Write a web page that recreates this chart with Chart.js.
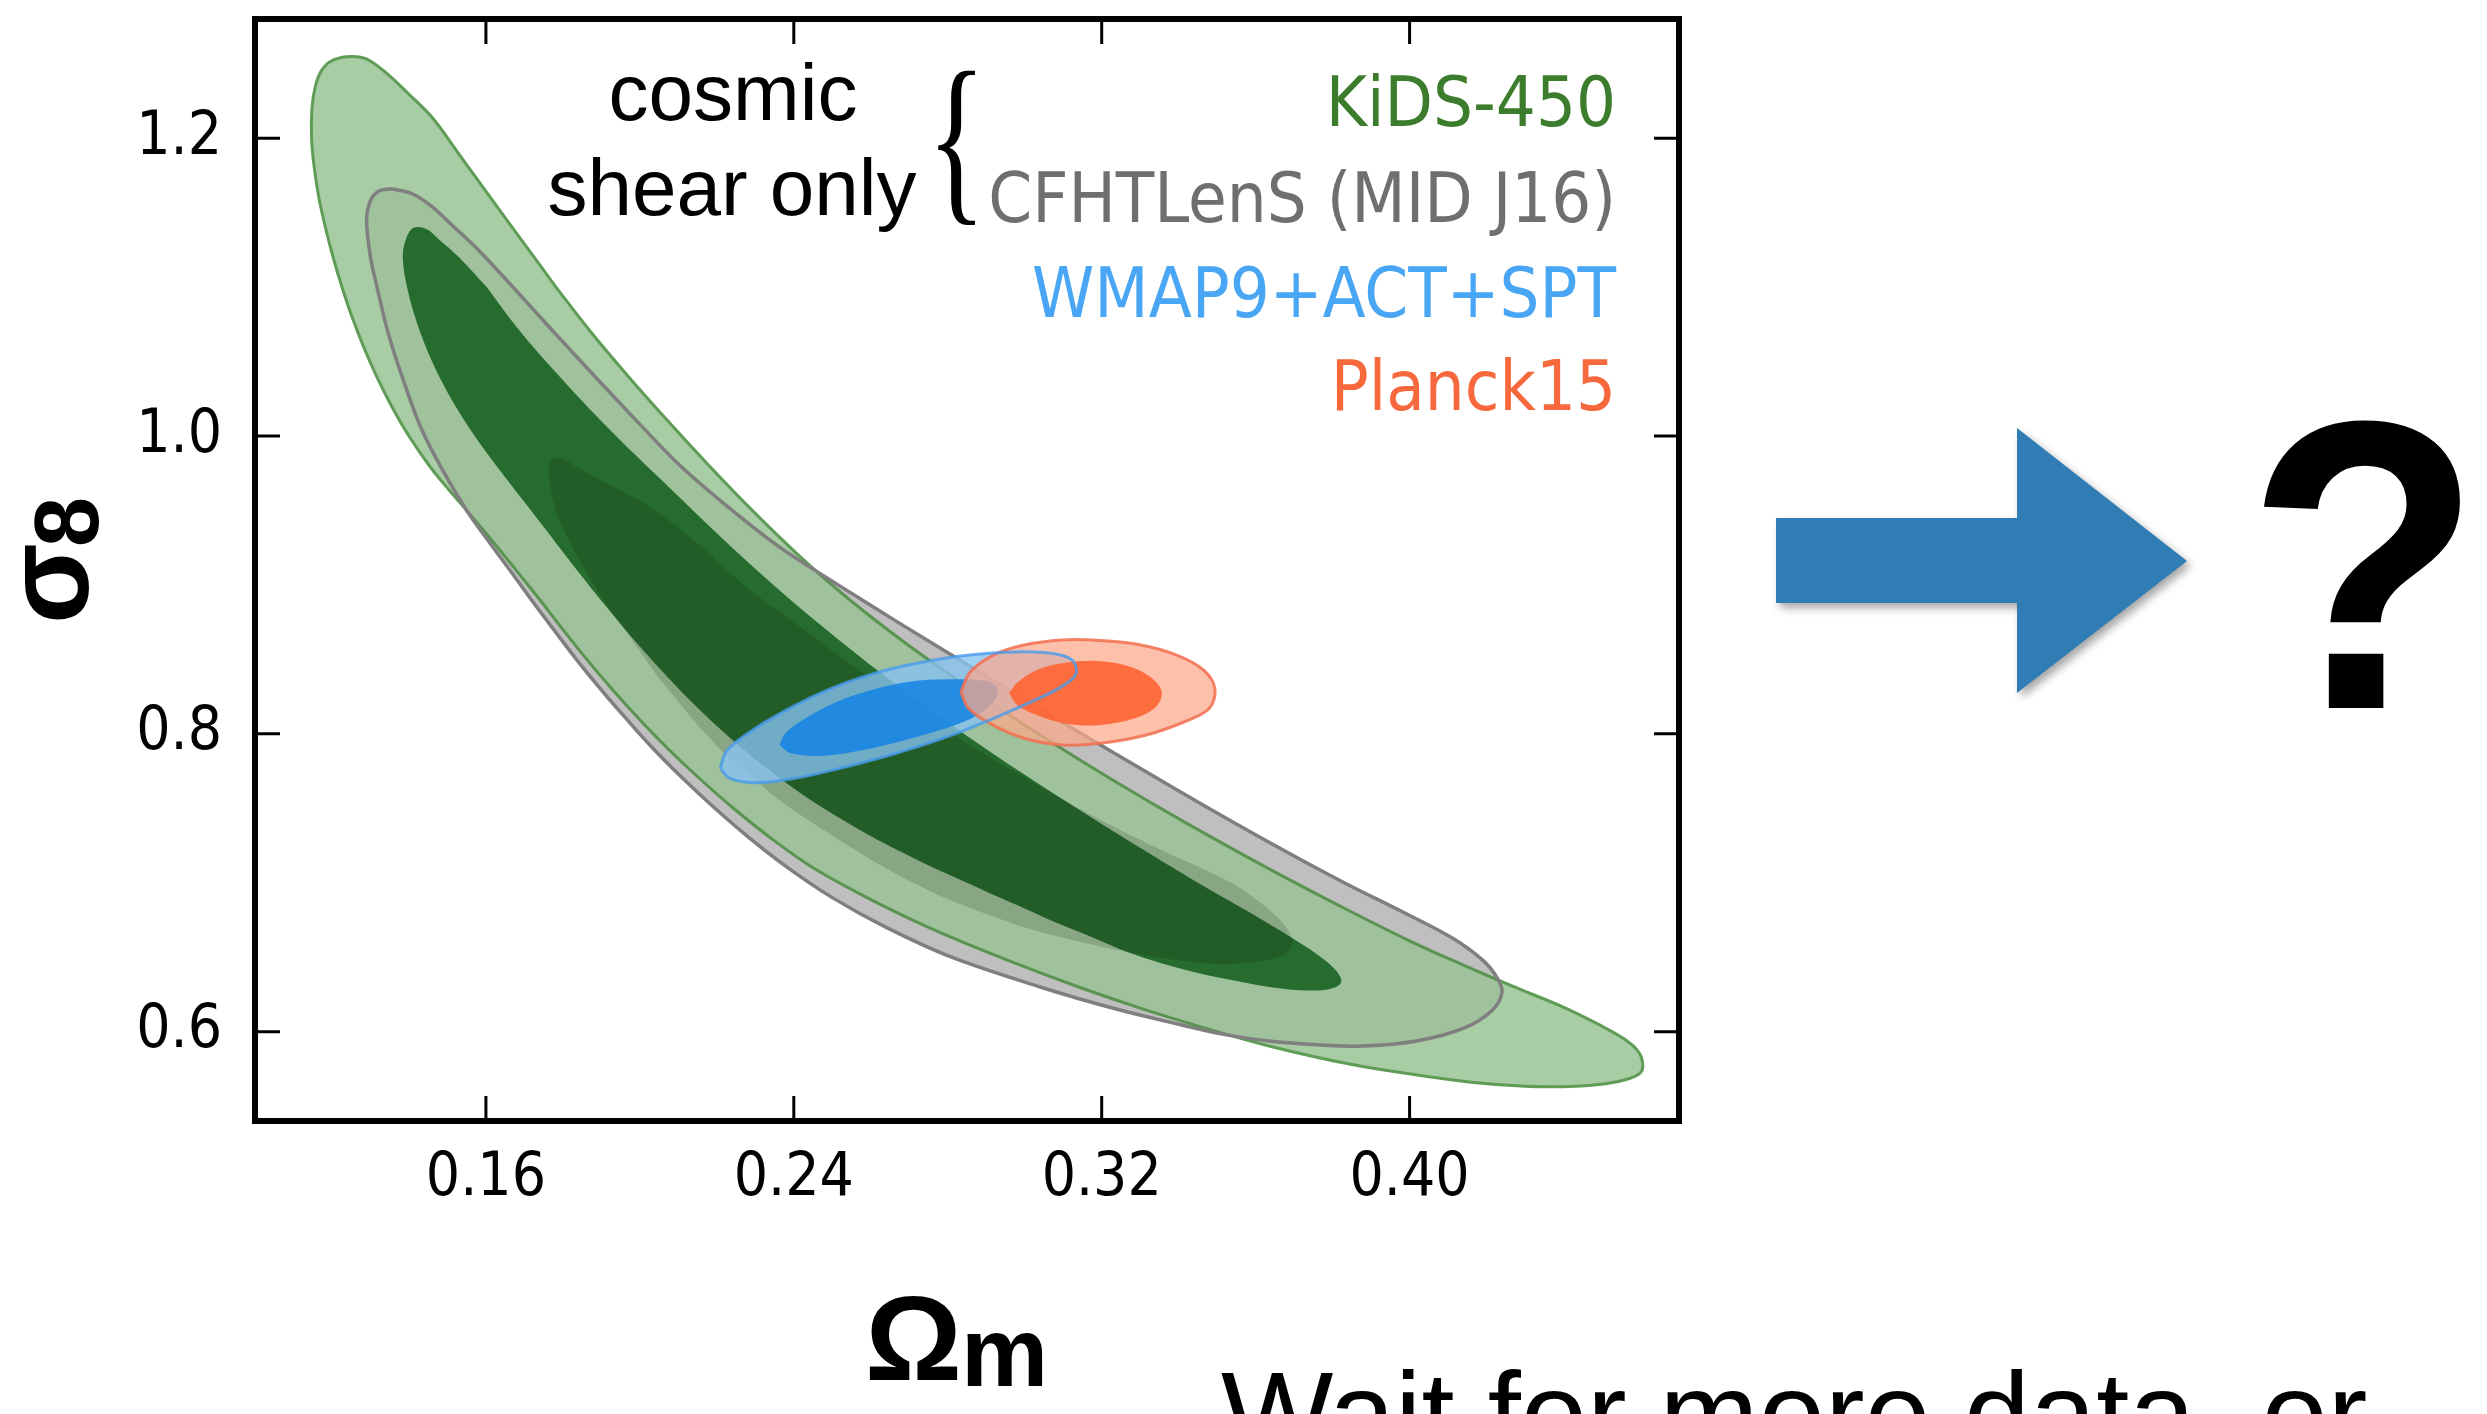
<!DOCTYPE html>
<html>
<head>
<meta charset="UTF-8">
<title>KiDS-450 sigma8 vs Omega_m</title>
<script src="https://cdn.jsdelivr.net/npm/chart.js@4.4.0/dist/chart.umd.min.js"></script>
<style>
  html, body { margin: 0; padding: 0; background: #fff; overflow: hidden; }
  canvas { display: block; }
</style>
</head>
<body>
<canvas id="contours" width="2487" height="1414" style="width:2487px;height:1414px"></canvas>
<script>
  // axis ranges and ticks
  var xRange = [0.10, 0.47];
  var yRange = [0.54, 1.28];
  var xTicks = [0.16, 0.24, 0.32, 0.40];
  var yTicks = [0.6, 0.8, 1.0, 1.2];

  var seriesNames = ['KiDS-450', 'CFHTLenS (MID J16)', 'WMAP9+ACT+SPT', 'Planck15'];
  var seriesColors = ['#3b7d2c', '#6f6f6f', '#49a6f4', '#f7683d'];

  // contour outlines, [Omega_m, sigma_8]
  var kids95 = [
    [0.1782,1.10],[0.1872,1.07],[0.1970,1.04],[0.2073,1.01],[0.2180,0.98],[0.2292,0.95],[0.2412,0.92],
    [0.2545,0.89],[0.2695,0.86],[0.2860,0.83],[0.3035,0.80],[0.3222,0.77],[0.3420,0.74],[0.3630,0.71],
    [0.3852,0.68],[0.4008,0.66],[0.4137,0.645],[0.4272,0.63],[0.4395,0.617],[0.4490,0.605],[0.4558,0.595],
    [0.4596,0.586],[0.4606,0.577],[0.4598,0.572],[0.4565,0.568],[0.4510,0.565],[0.4420,0.5632],[0.4300,0.5633],
    [0.4160,0.566],[0.3990,0.572],[0.3810,0.58],[0.3640,0.59],[0.3500,0.60],[0.3310,0.615],[0.3140,0.63],
    [0.2935,0.65],[0.2750,0.67],[0.2590,0.69],[0.2450,0.71],[0.2340,0.73],[0.2243,0.75],[0.2155,0.77],
    [0.2073,0.79],[0.1998,0.81],[0.1928,0.83],[0.1862,0.85],[0.1800,0.87],[0.1740,0.89],[0.1678,0.91],
    [0.1615,0.93],[0.1550,0.95],[0.1500,0.965],[0.1453,0.98],[0.1400,1.00],[0.1355,1.02],[0.1316,1.04],
    [0.1282,1.06],[0.1252,1.08],[0.1226,1.10],[0.1203,1.12],[0.1183,1.14],[0.1166,1.16],[0.1154,1.18],
    [0.1147,1.20],[0.1148,1.22],[0.1157,1.235],[0.1172,1.245],[0.1196,1.2515],[0.1238,1.2547],[0.1286,1.2535],
    [0.1340,1.2440],[0.1398,1.2300],[0.1460,1.2140],[0.1528,1.19],[0.1612,1.16],[0.1697,1.13],[0.1782,1.10]
  ];
  var kids68 = [
    [0.1602,1.100],[0.1667,1.0774],[0.1722,1.060],[0.1786,1.0414],[0.1850,1.0235],[0.1917,1.0055],[0.1983,0.9885],
    [0.2050,0.9719],[0.2138,0.950],[0.2240,0.925],[0.2347,0.900],[0.2460,0.875],[0.2580,0.850],[0.2707,0.825],
    [0.2842,0.800],[0.2985,0.775],[0.3135,0.750],[0.3290,0.725],[0.3450,0.700],[0.3585,0.680],[0.3700,0.662],
    [0.3775,0.649],[0.3812,0.640],[0.3822,0.633],[0.3795,0.6288],[0.3736,0.6276],[0.3650,0.6295],[0.3530,0.6350],
    [0.3426,0.6409],[0.3330,0.6480],[0.3248,0.6554],[0.3160,0.6650],[0.3069,0.6746],[0.2980,0.6850],[0.2905,0.6935],
    [0.2850,0.7000],[0.2780,0.7080],[0.2708,0.7170],[0.2635,0.7265],[0.2555,0.7380],[0.2465,0.7520],[0.2375,0.7680],
    [0.2288,0.7855],[0.2205,0.8040],[0.2128,0.8230],[0.2058,0.8420],[0.1992,0.8610],[0.1930,0.8800],[0.1870,0.8990],
    [0.1812,0.9180],[0.1756,0.9370],[0.1702,0.9550],[0.1648,0.9730],[0.1598,0.9900],[0.1550,1.0080],[0.1503,1.0280],
    [0.1460,1.0500],[0.1422,1.0750],[0.1395,1.1000],[0.1384,1.1200],[0.1392,1.1320],[0.1411,1.1397],[0.1445,1.1390],
    [0.1476,1.1325],[0.1530,1.1200],[0.1602,1.100]
  ];
  var cfht95 = [
    [0.1357,1.1660],[0.1410,1.1625],[0.1460,1.1540],[0.1510,1.1420],[0.1580,1.1250],[0.1670,1.100],[0.1758,1.075],
    [0.1865,1.045],[0.1985,1.012],[0.2105,0.980],[0.2240,0.950],[0.2365,0.925],[0.2515,0.900],[0.2670,0.875],
    [0.2828,0.850],[0.2987,0.825],[0.3148,0.800],[0.3312,0.775],[0.3478,0.750],[0.3650,0.725],[0.3830,0.700],
    [0.3985,0.680],[0.4110,0.663],[0.4190,0.648],[0.4228,0.636],[0.4240,0.6264],[0.4215,0.6144],[0.4141,0.6023],
    [0.4022,0.5939],[0.3880,0.5903],[0.3760,0.5912],[0.3640,0.5935],[0.3520,0.598],[0.3400,0.605],[0.3240,0.615],
    [0.3040,0.630],[0.2810,0.650],[0.2640,0.670],[0.2500,0.690],[0.2385,0.710],[0.2285,0.730],[0.2195,0.750],
    [0.2112,0.770],[0.2035,0.790],[0.1965,0.810],[0.1898,0.830],[0.1835,0.850],[0.1776,0.870],[0.1718,0.890],
    [0.1662,0.910],[0.1605,0.930],[0.1550,0.950],[0.1492,0.975],[0.1432,1.005],[0.1382,1.040],[0.1345,1.070],
    [0.1317,1.100],[0.1300,1.120],[0.1290,1.145],[0.1300,1.158],[0.1322,1.1645],[0.1357,1.1660]
  ];
  var cfht68 = [
    [0.1770,0.9850],[0.1800,0.9845],[0.1830,0.9800],[0.1900,0.9700],[0.1975,0.9600],[0.2050,0.9480],[0.2140,0.9300],
    [0.2270,0.9000],[0.2400,0.8750],[0.2530,0.8500],[0.2670,0.8250],[0.2810,0.8000],[0.2970,0.7750],[0.3140,0.7500],
    [0.3330,0.7250],[0.3536,0.7000],[0.3630,0.6830],[0.3685,0.6680],[0.3695,0.6580],[0.3670,0.6510],[0.3600,0.6470],
    [0.3500,0.6455],[0.3400,0.6480],[0.3300,0.6520],[0.3200,0.6570],[0.3100,0.6630],[0.3000,0.6700],[0.2900,0.6790],
    [0.2800,0.6890],[0.2709,0.7000],[0.2630,0.7110],[0.2540,0.7252],[0.2450,0.7400],[0.2370,0.7540],[0.2300,0.7690],
    [0.2225,0.7855],[0.2160,0.8030],[0.2100,0.8216],[0.2045,0.8390],[0.2000,0.8554],[0.1955,0.8720],[0.1910,0.8880],
    [0.1870,0.9050],[0.1830,0.9230],[0.1800,0.9380],[0.1781,0.9500],[0.1768,0.9650],[0.1764,0.9780],[0.1770,0.9850]
  ];
  var wmap95 = [
    [0.2209,0.7768],[0.2234,0.7701],[0.2303,0.7672],[0.2403,0.7701],[0.2502,0.7757],[0.2651,0.7858],[0.2800,0.7981],
    [0.2919,0.8104],[0.3018,0.8216],[0.3088,0.8305],[0.3132,0.8395],[0.3127,0.8484],[0.3088,0.8533],[0.2998,0.8551],
    [0.2899,0.8540],[0.2800,0.8511],[0.2651,0.8435],[0.2502,0.8310],[0.2373,0.8149],[0.2274,0.7992],[0.2224,0.7880],
    [0.2209,0.7768]
  ];
  var wmap68 = [
    [0.2363,0.7925],[0.2393,0.7869],[0.2482,0.7853],[0.2581,0.7891],[0.2681,0.7952],[0.2780,0.8025],[0.2869,0.8115],
    [0.2919,0.8216],[0.2929,0.8305],[0.2899,0.8354],[0.2800,0.8366],[0.2700,0.8350],[0.2601,0.8294],[0.2502,0.8204],
    [0.2423,0.8093],[0.2378,0.8003],[0.2363,0.7925]
  ];
  var planck95 = [
    [0.2834,0.8283],[0.2859,0.8417],[0.2919,0.8529],[0.2998,0.8596],[0.3097,0.8630],[0.3197,0.8627],[0.3296,0.8600],
    [0.3395,0.8529],[0.3465,0.8428],[0.3494,0.8305],[0.3480,0.8171],[0.3415,0.8081],[0.3316,0.7992],[0.3197,0.7936],
    [0.3097,0.7925],[0.2998,0.7970],[0.2909,0.8070],[0.2854,0.8171],[0.2834,0.8283]
  ];
  var planck68 = [
    [0.2959,0.8272],[0.2983,0.8350],[0.3038,0.8435],[0.3107,0.8477],[0.3187,0.8489],[0.3266,0.8457],[0.3326,0.8383],
    [0.3356,0.8283],[0.3341,0.8182],[0.3286,0.8104],[0.3197,0.8059],[0.3117,0.8064],[0.3043,0.8115],[0.2983,0.8189],
    [0.2959,0.8272]
  ];

  var NONE = 'rgba(0,0,0,0)';

  // one closed, filled contour; higher order sits lower in the stack
  function contour(label, pts, fill, stroke, width, order) {
    return {
      label: label,
      data: pts.map(function (p) { return { x: p[0], y: p[1] }; }),
      showLine: true,
      fill: fill ? 'shape' : false,
      backgroundColor: fill || NONE,
      borderColor: stroke || NONE,
      borderWidth: stroke ? width : 0,
      pointRadius: 0,
      pointHoverRadius: 0,
      tension: 0.35,
      order: order
    };
  }

  function hasFont(name) {
    var c = document.createElement('canvas').getContext('2d');
    c.font = '100px monospace';
    var a = c.measureText('0.16 KiDS-450').width;
    c.font = '100px "' + name + '", monospace';
    return c.measureText('0.16 KiDS-450').width !== a;
  }
  var condensed = hasFont('DejaVu Sans Condensed');
  var labelFamily = condensed ? '"DejaVu Sans Condensed"' : '"DejaVu Sans"';
  var squeeze = condensed ? 1 : 0.9;

  var framePlugin = {
    id: 'frame',
    afterDatasetsDraw: function (chart) {
      var ctx = chart.ctx, a = chart.chartArea, x = chart.scales.x, y = chart.scales.y;
      ctx.save();
      ctx.strokeStyle = '#000';
      ctx.lineWidth = 3;
      ctx.beginPath();
      xTicks.forEach(function (v) {
        var px = x.getPixelForValue(v);
        ctx.moveTo(px, a.bottom); ctx.lineTo(px, a.bottom - 25);
        ctx.moveTo(px, a.top); ctx.lineTo(px, a.top + 25);
      });
      yTicks.forEach(function (v) {
        var py = y.getPixelForValue(v);
        ctx.moveTo(a.left, py); ctx.lineTo(a.left + 25, py);
        ctx.moveTo(a.right, py); ctx.lineTo(a.right - 25, py);
      });
      ctx.stroke();
      ctx.lineWidth = 6;
      ctx.strokeRect(a.left, a.top, a.right - a.left, a.bottom - a.top);
      ctx.restore();
    }
  };

  // place a glyph so its ink fills the given box
  function fitGlyph(ctx, ch, font, x0, y0, x1, y1) {
    ctx.save();
    ctx.font = '200px ' + font;
    var m = ctx.measureText(ch);
    var w = m.actualBoundingBoxLeft + m.actualBoundingBoxRight;
    var h = m.actualBoundingBoxAscent + m.actualBoundingBoxDescent;
    ctx.translate(x0, y0);
    ctx.scale((x1 - x0) / w, (y1 - y0) / h);
    ctx.textAlign = 'left';
    ctx.textBaseline = 'alphabetic';
    ctx.fillText(ch, m.actualBoundingBoxLeft, m.actualBoundingBoxAscent);
    ctx.restore();
  }

  function inkText(ctx, txt, font, left, baseline) {
    ctx.font = font;
    var m = ctx.measureText(txt);
    ctx.fillText(txt, left + m.actualBoundingBoxLeft, baseline);
  }

  var textPlugin = {
    id: 'annotations',
    afterDraw: function (chart) {
      var ctx = chart.ctx;
      ctx.save();
      ctx.textBaseline = 'alphabetic';

      // series names, right aligned inside the frame
      var baselines = [126, 222, 317, 410];
      ctx.textAlign = 'right';
      ctx.font = '70px ' + labelFamily;
      seriesNames.forEach(function (name, i) {
        ctx.save();
        ctx.fillStyle = seriesColors[i];
        ctx.translate(1616, baselines[i]);
        ctx.scale(squeeze, 1);
        ctx.fillText(name, 0, 0);
        ctx.restore();
      });

      ctx.fillStyle = '#000';
      ctx.textAlign = 'center';
      ctx.font = '80px "Liberation Sans", Arial, sans-serif';
      ctx.fillText('cosmic', 733, 120);
      ctx.fillText('shear only', 732, 215);
      ctx.textAlign = 'left';
      fitGlyph(ctx, '{', '"Liberation Serif", serif', 938, 72, 975, 225);

      // axis titles
      inkText(ctx, 'Ω', 'bold 121px "Liberation Sans", Arial, sans-serif', 869, 1380);
      inkText(ctx, 'm', 'bold 98px "Liberation Sans", Arial, sans-serif', 967, 1386);
      ctx.save();
      ctx.translate(88, 620);
      ctx.rotate(-Math.PI / 2);
      inkText(ctx, 'σ', 'bold 118px "Liberation Sans", Arial, sans-serif', 0, 0);
      inkText(ctx, '8', 'bold 90px "Liberation Sans", Arial, sans-serif', 75, 10);
      ctx.restore();

      // arrow and question mark
      ctx.save();
      ctx.shadowColor = 'rgba(0,0,0,0.35)';
      ctx.shadowBlur = 8;
      ctx.shadowOffsetX = 4;
      ctx.shadowOffsetY = 5;
      ctx.fillStyle = '#2f7db4';
      ctx.beginPath();
      ctx.moveTo(1776, 518);
      ctx.lineTo(2017, 518);
      ctx.lineTo(2017, 428);
      ctx.lineTo(2187, 561);
      ctx.lineTo(2017, 693);
      ctx.lineTo(2017, 603);
      ctx.lineTo(1776, 603);
      ctx.closePath();
      ctx.fill();
      ctx.restore();

      ctx.fillStyle = '#000';
      fitGlyph(ctx, '?', 'bold "Liberation Sans", Arial, sans-serif', 2262, 418, 2463, 708);

      ctx.font = '119px "Liberation Sans", Arial, sans-serif';
      ctx.fillText('Wait for more data, or', 1221, 1455);
      ctx.restore();
    }
  };

  new Chart(document.getElementById('contours'), {
    type: 'scatter',
    data: {
      datasets: [
        contour('CFHTLenS 95', cfht95, '#cacaca', null, 0, 10),
        contour('KiDS 95', kids95, '#a8cca4', '#5f9c56', 3, 9),
        contour('KiDS 68', kids68, '#2a7232', null, 0, 8),
        contour('CFHTLenS 68', cfht68, 'rgba(0,0,0,0.14)', null, 0, 7),
        contour('CFHTLenS 95 edge', cfht95, 'rgba(0,0,0,0.05)', '#7f7f7f', 3.5, 6),
        contour('WMAP 95', wmap95, 'rgba(135,195,242,0.78)', null, 0, 5),
        contour('WMAP 68', wmap68, 'rgba(22,132,226,0.88)', null, 0, 4),
        contour('Planck 95', planck95, 'rgba(252,168,138,0.72)', 'rgba(242,112,80,0.85)', 3, 3),
        contour('Planck 68', planck68, 'rgba(255,98,48,0.88)', null, 0, 2),
        contour('WMAP 95 edge', wmap95, null, 'rgba(72,155,235,0.8)', 3, 1)
      ]
    },
    options: {
      responsive: false,
      animation: false,
      devicePixelRatio: 1,
      layout: { padding: { left: 0, top: 19, right: 2487 - 1679, bottom: 0 } },
      plugins: { legend: { display: false }, tooltip: { enabled: false } },
      scales: {
        x: {
          type: 'linear',
          min: xRange[0],
          max: xRange[1],
          afterBuildTicks: function (s) { s.ticks = xTicks.map(function (v) { return { value: v }; }); },
          afterFit: function (s) { s.height = 1414 - 1121; s.paddingLeft = 0; s.paddingRight = 0; },
          grid: { display: false, drawTicks: false },
          border: { display: false },
          ticks: {
            color: '#000',
            padding: 22,
            maxRotation: 0,
            font: { family: labelFamily.replace(/"/g, ''), size: 60 },
            callback: function (v) { return v.toFixed(2); }
          }
        },
        y: {
          type: 'linear',
          min: yRange[0],
          max: yRange[1],
          afterBuildTicks: function (s) { s.ticks = yTicks.map(function (v) { return { value: v }; }); },
          afterFit: function (s) { s.width = 255; s.paddingTop = 0; s.paddingBottom = 0; },
          grid: { display: false, drawTicks: false },
          border: { display: false },
          ticks: {
            color: '#000',
            padding: 33,
            font: { family: labelFamily.replace(/"/g, ''), size: 60 },
            callback: function (v) { return v.toFixed(1); }
          }
        }
      }
    },
    plugins: [framePlugin, textPlugin]
  });
</script>
</body>
</html>
